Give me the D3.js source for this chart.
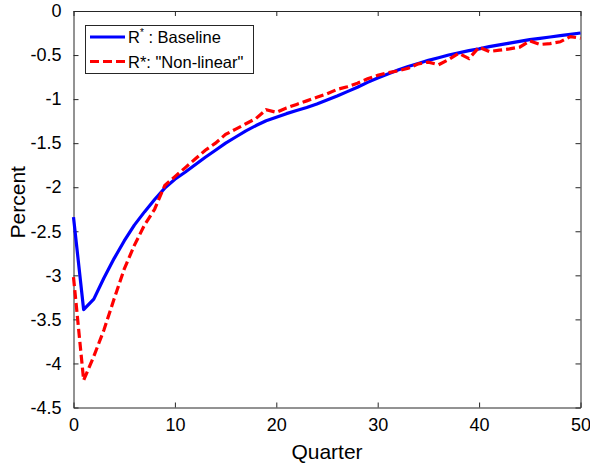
<!DOCTYPE html>
<meta charset="utf-8">
<script src="https://d3js.org/d3.v7.min.js"></script>
<style>
  body { margin: 0; background: #fff; }
  text { font-family: "Liberation Sans", Arial, Helvetica, sans-serif; fill: #000; }
</style>
<body>
<div id="chart"></div>
<script>
// quarters 0..50
var quarters = d3.range(0, 51);

var baseline = [-2.34, -3.39, -3.27, -3.03, -2.81, -2.61, -2.43, -2.28, -2.14, -2.01,
  -1.91, -1.83, -1.745, -1.66, -1.58, -1.50, -1.43, -1.36, -1.30, -1.245,
  -1.205, -1.165, -1.13, -1.095, -1.055, -1.01, -0.965, -0.915, -0.865, -0.81,
  -0.76, -0.715, -0.67, -0.63, -0.595, -0.56, -0.53, -0.50, -0.475, -0.45,
  -0.43, -0.405, -0.385, -0.365, -0.345, -0.325, -0.31, -0.295, -0.28, -0.265,
  -0.25];

var nonlinear = [-3.02, -4.19, -3.92, -3.62, -3.27, -2.93, -2.66, -2.43, -2.25, -1.98,
  -1.88, -1.78, -1.68, -1.58, -1.50, -1.40, -1.34, -1.28, -1.22, -1.12,
  -1.15, -1.10, -1.06, -1.02, -0.98, -0.94, -0.89, -0.86, -0.82, -0.77,
  -0.73, -0.70, -0.68, -0.65, -0.60, -0.58, -0.61, -0.55, -0.48, -0.54,
  -0.41, -0.46, -0.445, -0.43, -0.41, -0.34, -0.38, -0.37, -0.35, -0.29,
  -0.31];

var xTicks = [0, 10, 20, 30, 40, 50];
var yTicks = [0, -0.5, -1, -1.5, -2, -2.5, -3, -3.5, -4, -4.5];

var width = 590, height = 466;
var margin = {top: 11, right: 9.5, bottom: 58.5, left: 73.5};

var svg = d3.select("#chart").append("svg")
  .attr("width", width)
  .attr("height", height);

var x = d3.scaleLinear().domain([0, 50]).range([margin.left, width - margin.right]);
var y = d3.scaleLinear().domain([-4.5, 0]).range([height - margin.bottom, margin.top]);

var axisColor = "#262626";

function styleAxis(g) {
  g.select(".domain").attr("stroke", axisColor);
  g.selectAll(".tick line").attr("stroke", axisColor);
  g.selectAll(".tick text").attr("font-size", 18).attr("font-family", "Liberation Sans, Arial").attr("fill", "#000");
}

// axes (ticks point inward, box on)
svg.append("g")
  .attr("transform", "translate(0," + y(-4.5) + ")")
  .call(d3.axisBottom(x).tickValues(xTicks).tickSizeInner(-5).tickSizeOuter(0).tickPadding(11))
  .call(styleAxis);

svg.append("g")
  .attr("transform", "translate(" + x(0) + ",0)")
  .call(d3.axisLeft(y).tickValues(yTicks).tickSizeInner(-5).tickSizeOuter(0).tickPadding(12)
    .tickFormat(function(d) { return d === 0 ? "0" : String(d); }))
  .call(styleAxis);

svg.append("g")
  .attr("transform", "translate(0," + y(0) + ")")
  .call(d3.axisTop(x).tickValues(xTicks).tickSizeInner(-5).tickSizeOuter(0).tickFormat(""))
  .call(styleAxis);

svg.append("g")
  .attr("transform", "translate(" + x(50) + ",0)")
  .call(d3.axisRight(y).tickValues(yTicks).tickSizeInner(-5).tickSizeOuter(0).tickFormat(""))
  .call(styleAxis);

// axis labels
svg.append("text")
  .attr("x", (x(0) + x(50)) / 2)
  .attr("y", 459)
  .attr("text-anchor", "middle")
  .attr("font-size", 21)
  .text("Quarter");

svg.append("text")
  .attr("transform", "translate(25," + (y(-2.25) - 7) + ")rotate(-90)")
  .attr("text-anchor", "middle")
  .attr("font-size", 21)
  .text("Percent");

// lines
var line = d3.line()
  .x(function(d, i) { return x(quarters[i]); })
  .y(function(d) { return y(d); });

svg.append("path")
  .datum(baseline)
  .attr("fill", "none")
  .attr("stroke", "#0000ff")
  .attr("stroke-width", 3.2)
  .attr("stroke-linejoin", "round")
  .attr("d", line);

svg.append("path")
  .datum(nonlinear)
  .attr("fill", "none")
  .attr("stroke", "#ff0000")
  .attr("stroke-width", 3.2)
  .attr("stroke-dasharray", "9,4")
  .attr("d", line);

// legend
var legend = svg.append("g");
legend.append("rect")
  .attr("x", 85.5).attr("y", 25.5)
  .attr("width", 168).attr("height", 48)
  .attr("fill", "#fff")
  .attr("stroke", axisColor)
  .attr("stroke-width", 1);

legend.append("line")
  .attr("x1", 90).attr("x2", 125).attr("y1", 37).attr("y2", 37)
  .attr("stroke", "#0000ff").attr("stroke-width", 3.2);
legend.append("line")
  .attr("x1", 90).attr("x2", 125).attr("y1", 61.5).attr("y2", 61.5)
  .attr("stroke", "#ff0000").attr("stroke-width", 3.2)
  .attr("stroke-dasharray", "9,4");

var t1 = legend.append("text").attr("x", 128).attr("y", 43).attr("font-size", 16.5);
t1.append("tspan").text("R");
t1.append("tspan").attr("dy", -7).attr("font-size", 10).text("*");
t1.append("tspan").attr("dy", 7).text(" : Baseline");

legend.append("text").attr("x", 128).attr("y", 67.5).attr("font-size", 16.5)
  .text("R*: \"Non-linear\"");
</script>
</body>
